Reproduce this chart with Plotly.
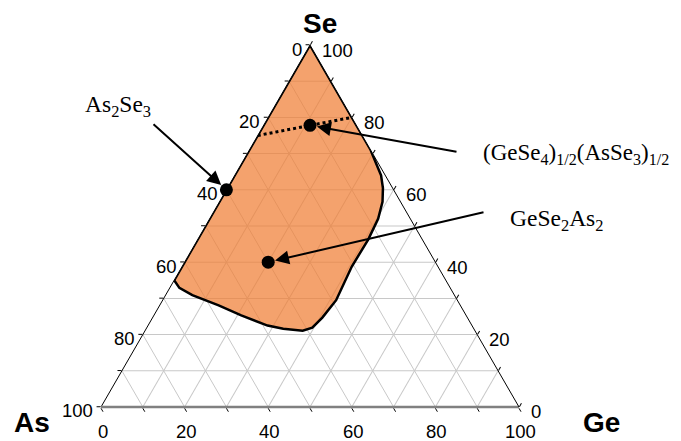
import math
import plotly.graph_objects as go

# ---------------- data (atomic %) ----------------
# glass-forming region boundary (clockwise from the Se corner)
region_se = [100, 71, 67.5, 64, 60.5, 56.7, 52, 46.3, 38.8, 29.5, 24.7, 21.9, 21.1, 21.6, 22.5, 25.3, 28.1, 30.9, 32.9, 35, 100]
region_ge = [0, 29, 32, 35, 37.2, 39, 40.3, 40.8, 40.6, 41.5, 40.6, 39.6, 37.7, 32.8, 28.6, 20.9, 14.1, 6.4, 2.3, 0, 0]
region_as = [0, 0, 0.5, 1, 2.3, 4.3, 7.7, 12.9, 20.6, 29, 34.7, 38.5, 41.2, 45.6, 48.9, 53.8, 57.8, 62.7, 64.8, 65, 0]

# tie line AsSe3 -- GeSe4
tie_se = [75, 80]
tie_ge = [0, 20]
tie_as = [25, 0]

# compositions
comp_names = ["As<sub>2</sub>Se<sub>3</sub>",
              "(GeSe<sub>4</sub>)<sub>1/2</sub>(AsSe<sub>3</sub>)<sub>1/2</sub>",
              "GeSe<sub>2</sub>As<sub>2</sub>"]
comp_se = [60, 77.8, 40]
comp_ge = [0, 11.1, 20]
comp_as = [40, 11.1, 40]

tick_vals = list(range(0, 101, 10))
label_vals = list(range(0, 101, 20))
label_text = [str(100 - v) for v in label_vals]

# ---------------- layout geometry ----------------
PAGE_OFF = 8                      # default body margin of the html page
W, H = 681 - PAGE_OFF, 441 - PAGE_OFF
L, R, T, B = 93, 162, 37, 34
pw, ph = W - L - R, H - T - B
tri_w = min(pw, ph * 2 / math.sqrt(3))
tri_h = tri_w * math.sqrt(3) / 2
x0 = PAGE_OFF + L + (pw - tri_w) / 2
ybot = PAGE_OFF + T + (ph + tri_h) / 2


def to_px(se, ge):
    """ternary (%) -> page pixels"""
    return x0 + tri_w * (ge + se / 2) / 100, ybot - tri_h * se / 100


def to_paper(x, y):
    """page pixels -> paper coordinates"""
    return (x - PAGE_OFF - L) / pw, (H - B - (y - PAGE_OFF)) / ph


label_px = [(83, 106), (481, 154), (508, 220)]
label_size = [23.5, 23, 23.5]
tail_px = [(152, 123), (458, 152), (485, 212)]

fig = go.Figure()
fig.add_trace(go.Scatterternary(
    a=region_se, b=region_as, c=region_ge, mode="lines", fill="toself",
    fillcolor="rgba(240,126,52,0.72)", line=dict(color="black", width=2.5),
    hoverinfo="skip"))
fig.add_trace(go.Scatterternary(
    a=tie_se, b=tie_as, c=tie_ge, mode="lines",
    line=dict(color="black", width=3, dash="dot"), hoverinfo="skip"))
fig.add_trace(go.Scatterternary(
    a=comp_se, b=comp_as, c=comp_ge, mode="markers", cliponaxis=False,
    marker=dict(color="black", size=13), hoverinfo="skip"))

axis_common = dict(
    tickmode="array", tickvals=tick_vals, showticklabels=False,
    ticks="outside", ticklen=4, tickcolor="black",
    gridcolor="#c8c8c8", gridwidth=1, showline=True,
    title=dict(text=""), min=0)

tick_font = dict(family="Liberation Sans, Arial", size=18.5, color="black")
annotations = []


def add_text(text, x, y, xanchor, font):
    px, py = to_paper(x, y)
    annotations.append(dict(x=px, y=py, xref="paper", yref="paper", text=text,
                            showarrow=False, xanchor=xanchor, yanchor="middle",
                            font=font))


# tick labels: left edge (As), bottom edge (Ge), right edge (Se)
for v, t in zip(label_vals, label_text):
    x, y = to_px(v, 0)
    add_text(t, x - 6, y + 4, "right", tick_font)
    x, y = to_px(0, 100 - v)
    add_text(t, x + 1.5, y + 24.5, "center", tick_font)
    x, y = to_px(100 - v, v)
    add_text(t, x + 10, y + 5, "left", tick_font)

# composition labels with arrows
for name, se, ge, lp, tp, fs in zip(comp_names, comp_se, comp_ge, label_px, tail_px, label_size):
    tx, ty = to_px(se, ge)
    px, py = to_paper(tx, ty)
    annotations.append(dict(
        x=px, y=py, xref="paper", yref="paper", text="", showarrow=True,
        ax=tp[0] - tx, ay=tp[1] - ty, arrowhead=2, arrowsize=1.4,
        arrowwidth=2, arrowcolor="black", standoff=7))
    add_text(name, lp[0], lp[1], "left",
             dict(family="Liberation Serif, Times New Roman", size=fs, color="black"))

# corner titles
title_font = dict(family="Liberation Sans, Arial", size=28, color="black")
for t, (x, y) in [("Se", (320, 23)), ("As", (32, 422)), ("Ge", (601, 423))]:
    add_text("<b>%s</b>" % t, x, y, "center", title_font)

fig.update_layout(
    width=W, height=H, margin=dict(l=L, r=R, t=T, b=B, pad=0),
    paper_bgcolor="white", showlegend=False, hovermode=False,
    ternary=dict(
        sum=100, bgcolor="white",
        domain=dict(x=[0, 1], y=[0, 1]),
        aaxis=dict(axis_common, linecolor="black", linewidth=1),
        baxis=dict(axis_common, linecolor="#808080", linewidth=2.5),
        caxis=dict(axis_common, linecolor="black", linewidth=1),
    ),
    annotations=annotations,
)

fig.write_html("out.html")
